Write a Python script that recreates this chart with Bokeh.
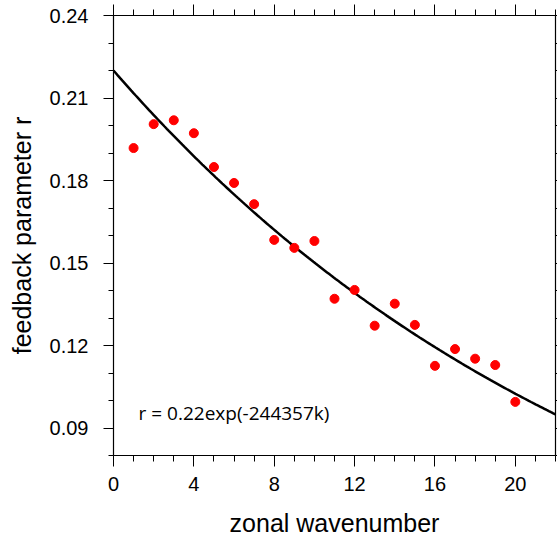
import numpy as np
from bokeh.plotting import figure
from bokeh.models import LinearAxis, Label, Range1d, FixedTicker
from bokeh.embed import file_html
from bokeh.resources import INLINE

# data
wavenumber = [1, 2, 3, 4, 5, 6, 7, 8, 9, 10, 11, 12, 13, 14, 15, 16, 17, 18, 19, 20]
feedback_r = [0.1918, 0.2005, 0.2019, 0.1972, 0.1849, 0.1791, 0.1714, 0.1584, 0.1555, 0.1580,
              0.1370, 0.1402, 0.1272, 0.1352, 0.1275, 0.1126, 0.1187, 0.1152, 0.1129, 0.0995]
fit_amp = 0.22
fit_rate = 0.0382
x_ticks = [0, 4, 8, 12, 16, 20]
y_ticks = [0.09, 0.12, 0.15, 0.18, 0.21, 0.24]
fit_label = "r = 0.22exp(-244357k)"
x_title = "zonal wavenumber"
y_title = "feedback parameter r"

k_curve = np.linspace(0, 22, 200)
r_curve = fit_amp * np.exp(-fit_rate * k_curve)

p = figure(width=557, height=539, output_backend="svg", toolbar_location=None,
           x_range=Range1d(0, 22), y_range=Range1d(0.08, 0.24),
           x_axis_location=None, y_axis_location=None,
           min_border_left=113, min_border_right=2, min_border_top=15, min_border_bottom=84)
p.grid.visible = False
p.outline_line_color = None
p.background_fill_color = "white"
p.border_fill_color = "white"

font = "Liberation Sans"

def style(ax, labels=True):
    ax.axis_line_color = "black"
    ax.axis_line_width = 1.2
    ax.major_tick_line_color = "black"
    ax.minor_tick_line_color = "black"
    ax.major_tick_out = 11
    ax.major_tick_in = 0
    ax.minor_tick_out = 6
    ax.minor_tick_in = 0
    ax.major_label_text_font = font
    ax.major_label_text_font_size = "20px"
    ax.major_label_text_color = "black"
    ax.axis_label_text_font = font
    ax.axis_label_text_font_size = "25px"
    ax.axis_label_text_font_style = "normal"
    ax.axis_label_text_color = "black"
    if not labels:
        ax.major_label_text_font_size = "0px"
        ax.major_label_text_color = None
        ax.major_label_standoff = 0

xb = LinearAxis(axis_label=x_title)
xb.ticker = FixedTicker(ticks=x_ticks, minor_ticks=list(range(0, 23)))
style(xb)
xb.major_label_standoff = 10
xb.axis_label_standoff = 15
p.add_layout(xb, "below")

xt = LinearAxis()
xt.ticker = FixedTicker(ticks=x_ticks, minor_ticks=list(range(0, 23)))
style(xt, labels=False)
p.add_layout(xt, "above")

minor_y = [round(0.08 + 0.01 * i, 2) for i in range(17)]
yl = LinearAxis(axis_label=y_title)
yl.ticker = FixedTicker(ticks=y_ticks, minor_ticks=minor_y)
style(yl)
yl.major_tick_out = 10
yl.minor_tick_out = 5
yl.major_label_standoff = 15
yl.axis_label_standoff = 11
p.add_layout(yl, "left")

yr = LinearAxis()
yr.ticker = FixedTicker(ticks=y_ticks, minor_ticks=minor_y)
style(yr, labels=False)
yr.major_tick_out = 2
yr.minor_tick_out = 2
p.add_layout(yr, "right")

p.line(k_curve, r_curve, line_color="black", line_width=2.5)
p.scatter(wavenumber, feedback_r, size=9, color="red", line_color="red")

p.add_layout(Label(x=1.25, y=0.0956, text=fit_label, text_font="Open Sans",
                   text_font_size="19px", text_color="black", text_baseline="middle"))

open("out.html", "w").write(file_html(p, INLINE))
